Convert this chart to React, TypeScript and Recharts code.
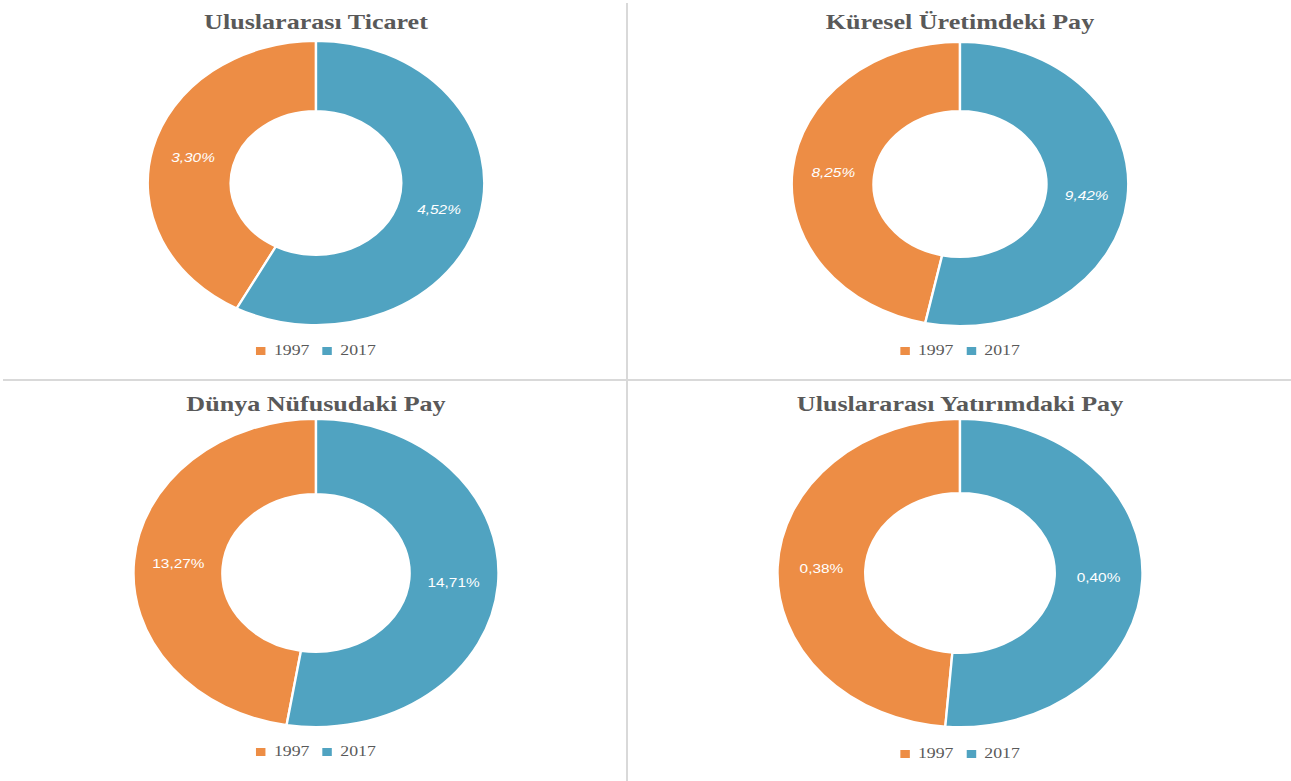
import React from "react"
import { PieChart, Pie, Cell, Legend } from "recharts"

const years = ["1997", "2017"]
const titles = [
    "Uluslararası Ticaret",
    "Küresel Üretimdeki Pay",
    "Dünya Nüfusudaki Pay",
    "Uluslararası Yatırımdaki Pay",
]
const tradeValues = [3.3, 4.52]
const productionValues = [8.25, 9.42]
const populationValues = [13.27, 14.71]
const investmentValues = [0.38, 0.4]

const COLORS = ["#ED8D45", "#50A3C1"]
const SX = 1.185
const RAD = Math.PI / 180

const build = (values: number[]) =>
    years.map((y, i) => ({ name: y, value: values[i] }))

const fmt = (v: number) => v.toFixed(2).replace(".", ",") + "%"

function makeLabel(italic: boolean) {
    return (p: any) => {
        const r = (p.innerRadius + p.outerRadius) / 2
        const x = p.cx + r * Math.cos(-p.midAngle * RAD)
        const y = p.cy + r * Math.sin(-p.midAngle * RAD)
        return (
            <text
                x={x}
                y={y}
                fill="#ffffff"
                textAnchor="middle"
                dominantBaseline="central"
                fontSize={13}
                fontStyle={italic ? "italic" : "normal"}
                fontFamily="'Liberation Sans', Arial, sans-serif"
            >
                {fmt(p.value)}
            </text>
        )
    }
}

function LegendBox(props: any) {
    const items = props.payload || []
    return (
        <div
            style={{
                display: "flex",
                justifyContent: "center",
                alignItems: "center",
                fontFamily: "'Liberation Serif', serif",
                fontSize: 15,
                color: "#595959",
            }}
        >
            {items.map((it: any, i: number) => (
                <div
                    key={it.value}
                    style={{
                        display: "flex",
                        alignItems: "center",
                        marginLeft: i > 0 ? 11 : 0,
                    }}
                >
                    <span
                        style={{
                            width: 8,
                            height: 8,
                            background: it.color,
                            marginRight: 7,
                            display: "inline-block",
                        }}
                    />
                    <span>{it.value}</span>
                </div>
            ))}
        </div>
    )
}

interface PanelProps {
    left: number
    top: number
    width: number
    height: number
    title: string
    values: number[]
    cx: number
    cy: number
    inner: number
    outer: number
    legendTop: number
    italic: boolean
}

function Panel(props: PanelProps) {
    const w = props.width / SX
    return (
        <div
            style={{
                position: "absolute",
                left: props.left,
                top: props.top,
                width: props.width,
                height: props.height,
                overflow: "hidden",
            }}
        >
            <div
                style={{
                    position: "relative",
                    width: w,
                    height: props.height,
                    transform: `scaleX(${SX})`,
                    transformOrigin: "0 0",
                }}
            >
                <div
                    style={{
                        position: "absolute",
                        top: 8,
                        left: 0,
                        width: props.cx * 2,
                        textAlign: "center",
                        fontFamily: "'Liberation Serif', 'Times New Roman', serif",
                        fontWeight: "bold",
                        fontSize: 22,
                        color: "#595959",
                        lineHeight: "28px",
                    }}
                >
                    {props.title}
                </div>
                <PieChart
                    width={w}
                    height={props.height}
                    margin={{ top: 0, right: 0, bottom: 0, left: 0 }}
                >
                    <Pie
                        data={build(props.values)}
                        dataKey="value"
                        nameKey="name"
                        cx={props.cx}
                        cy={props.cy}
                        innerRadius={props.inner}
                        outerRadius={props.outer}
                        startAngle={90}
                        endAngle={450}
                        stroke="#ffffff"
                        strokeWidth={2}
                        labelLine={false}
                        label={makeLabel(props.italic)}
                        isAnimationActive={false}
                    >
                        {years.map((y, i) => (
                            <Cell key={y} fill={COLORS[i]} />
                        ))}
                    </Pie>
                    <Legend
                        content={LegendBox}
                        wrapperStyle={{
                            top: props.legendTop,
                            left: 0,
                            width: props.cx * 2,
                            bottom: "auto",
                        }}
                    />
                </PieChart>
            </div>
        </div>
    )
}

export default function App() {
    return (
        <div
            style={{
                position: "absolute",
                left: 0,
                top: 0,
                width: 1291,
                height: 781,
                background: "#ffffff",
                overflow: "hidden",
            }}
        >
            <Panel
                left={0}
                top={0}
                width={626}
                height={379}
                title={titles[0]}
                values={tradeValues}
                cx={316 / SX}
                cy={183}
                inner={72}
                outer={142}
                legendTop={342}
                italic={true}
            />
            <Panel
                left={629}
                top={0}
                width={662}
                height={379}
                title={titles[1]}
                values={productionValues}
                cx={331 / SX}
                cy={184}
                inner={73}
                outer={142}
                legendTop={342}
                italic={true}
            />
            <Panel
                left={0}
                top={382}
                width={626}
                height={399}
                title={titles[2]}
                values={populationValues}
                cx={316 / SX}
                cy={191}
                inner={79}
                outer={154}
                legendTop={361}
                italic={false}
            />
            <Panel
                left={629}
                top={382}
                width={662}
                height={399}
                title={titles[3]}
                values={investmentValues}
                cx={331 / SX}
                cy={191}
                inner={80}
                outer={154}
                legendTop={363}
                italic={false}
            />
            <div
                style={{
                    position: "absolute",
                    left: 626,
                    top: 3,
                    width: 2,
                    height: 778,
                    background: "#d9d9d9",
                }}
            />
            <div
                style={{
                    position: "absolute",
                    left: 3,
                    top: 379,
                    width: 1288,
                    height: 2,
                    background: "#d9d9d9",
                }}
            />
        </div>
    )
}
